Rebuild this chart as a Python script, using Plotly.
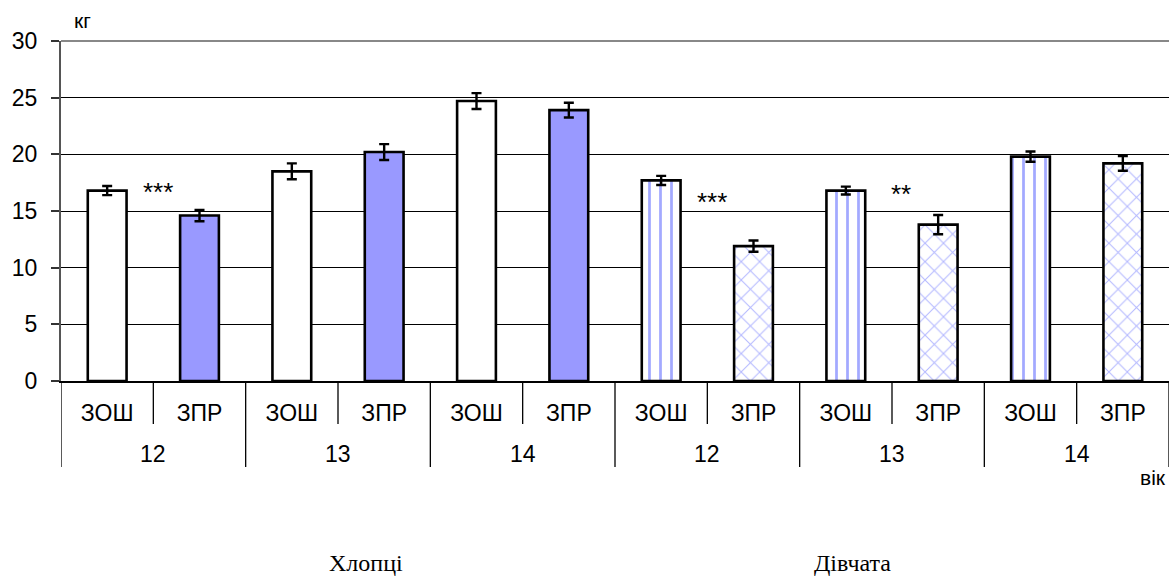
import plotly.graph_objects as go

# Data: mean hand-grip strength (kg) by sex, age and school type
ages = ["12", "13", "14"]
schools = ["ЗОШ", "ЗПР"]
sexes = ["Хлопці", "Дівчата"]

boys_zosh = [16.8, 18.5, 24.7]
boys_zosh_err = [0.4, 0.7, 0.7]
boys_zpr = [14.6, 20.2, 23.9]
boys_zpr_err = [0.5, 0.7, 0.65]
girls_zosh = [17.7, 16.8, 19.8]
girls_zosh_err = [0.4, 0.35, 0.45]
girls_zpr = [11.9, 13.8, 19.2]
girls_zpr_err = [0.5, 0.85, 0.65]

# Significance marks: (category position, value, text)
sig_marks = [(0.55, 17.2, "***"), (6.55, 16.3, "***"), (8.6, 17.0, "**")]

W, H = 1169, 587
ML, MR, MT, MB = 61, 0, 41, 206
PW, PH = W - ML - MR, H - MT - MB

SANS = "Liberation Sans, Arial"
SERIF = "Liberation Serif, Times New Roman"


def px(x):
    return (x - ML) / PW


def py(y):
    return (H - MB - y) / PH


# category index for each (sex, age, school)
def pos(sex_i, age_i, school_i):
    return sex_i * 6 + age_i * 2 + school_i


BAR_W = 0.42
OUTLINE = dict(color="black", width=2.6)
ERR = dict(type="data", visible=True, color="black", thickness=2.4, width=5)

fig = go.Figure()

fig.add_bar(x=[pos(0, i, 0) for i in range(3)], y=boys_zosh, width=BAR_W,
            error_y=dict(array=boys_zosh_err, **ERR),
            marker=dict(color="white", line=OUTLINE))
fig.add_bar(x=[pos(0, i, 1) for i in range(3)], y=boys_zpr, width=BAR_W,
            error_y=dict(array=boys_zpr_err, **ERR),
            marker=dict(color="#9999ff", line=OUTLINE))
fig.add_bar(x=[pos(1, i, 0) for i in range(3)], y=girls_zosh, width=BAR_W,
            error_y=dict(array=girls_zosh_err, **ERR),
            marker=dict(color="white", line=OUTLINE,
                        pattern=dict(shape="|", fgcolor="#a3a9ff", bgcolor="white",
                                     size=11, solidity=0.25, fillmode="replace")))
fig.add_bar(x=[pos(1, i, 1) for i in range(3)], y=girls_zpr, width=BAR_W,
            error_y=dict(array=girls_zpr_err, **ERR),
            marker=dict(color="white", line=OUTLINE,
                        pattern=dict(shape="x", fgcolor="#b3b8ff", bgcolor="white",
                                     size=13, solidity=0.15, fillmode="replace")))

n_cat = len(sexes) * len(ages) * len(schools)
tickvals = list(range(n_cat))
ticktext = [schools[i % 2] for i in range(n_cat)]

shapes = []
# short separators between school types inside an age group
for k in range(n_cat // 2):
    xb = 2 * k + 0.5
    shapes.append(dict(type="line", xref="x", yref="paper", x0=xb, x1=xb,
                       y0=0, y1=py(424), line=dict(color="black", width=1.3)))
# long separators between age groups
for k in range(n_cat // 2 + 1):
    xb = 2 * k - 0.5
    shapes.append(dict(type="line", xref="x", yref="paper", x0=xb, x1=xb,
                       y0=0, y1=py(467), line=dict(color="black", width=1.3)))
# top border of the plot area in grey
shapes.append(dict(type="line", xref="paper", yref="paper", x0=0, x1=1, y0=1, y1=1,
                   line=dict(color="#888", width=2)))

annotations = []
for s_i in range(len(sexes)):
    for a_i, age in enumerate(ages):
        annotations.append(dict(x=pos(s_i, a_i, 0) + 0.5, y=py(454), xref="x", yref="paper",
                                xanchor="center", yanchor="middle",
                                text=age, showarrow=False,
                                font=dict(family=SANS, size=23, color="black")))
for x, y, t in sig_marks:
    annotations.append(dict(x=x, y=y, xref="x", yref="y", text=t, showarrow=False,
                            xanchor="center", yanchor="middle", yshift=-6,
                            font=dict(family=SANS, size=26, color="black")))
# axis unit labels
annotations.append(dict(x=px(82), y=py(21), xref="paper", yref="paper", text="кг",
                        showarrow=False, xanchor="center", yanchor="middle",
                        font=dict(family=SANS, size=21, color="black")))
annotations.append(dict(x=px(1168), y=py(478), xref="paper", yref="paper", text="вік",
                        showarrow=False, xanchor="right", yanchor="middle",
                        font=dict(family=SANS, size=21, color="black")))
# sex labels below the axis
for s_i, sex in enumerate(sexes):
    cx = [366, 852][s_i]
    annotations.append(dict(x=px(cx), y=py(563), xref="paper", yref="paper",
                            xanchor="center", yanchor="middle",
                            text=sex, showarrow=False,
                            font=dict(family=SERIF, size=24, color="black")))

fig.update_layout(
    width=W, height=H,
    margin=dict(l=ML, r=MR, t=MT, b=MB),
    paper_bgcolor="white", plot_bgcolor="white",
    showlegend=False, barmode="overlay",
    shapes=shapes, annotations=annotations,
    xaxis=dict(range=[-0.5, n_cat - 0.5], tickmode="array", tickvals=tickvals,
               ticktext=ticktext, ticks="", showgrid=False, zeroline=False,
               showline=True, linecolor="black", linewidth=2,
               tickfont=dict(family=SANS, size=23, color="black"),
               ticklabelstandoff=10),
    yaxis=dict(range=[0, 30], tickvals=[0, 5, 10, 15, 20, 25], ticks="outside",
               ticklen=8, tickcolor="#333", tickwidth=1.5, ticklabelstandoff=9,
               showgrid=True, gridcolor="black", gridwidth=1.2, zeroline=False,
               showline=True, linecolor="#555", linewidth=2,
               tickfont=dict(family=SANS, size=23, color="black")),
)
# the 30 tick sits on the grey top border, so it gets its own tick/label
fig.update_yaxes(tickvals=[0, 5, 10, 15, 20, 25, 30])
fig.add_hline(y=30, line=dict(color="#888", width=2))

fig.write_html("out.html")
